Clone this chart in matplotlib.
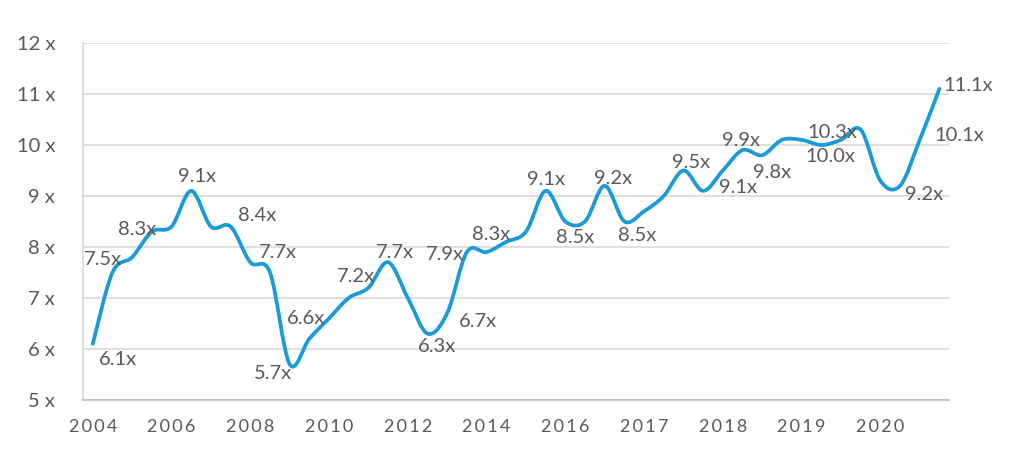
import numpy as np
import matplotlib
matplotlib.use("Agg")
import matplotlib.pyplot as plt
from matplotlib.path import Path
from matplotlib.patches import PathPatch

# ---- data ----
multiples = [6.1, 7.5, 7.8, 8.3, 8.4, 9.1, 8.4, 8.4, 7.7, 7.5,
             5.7, 6.2, 6.6, 7.0, 7.2, 7.7, 7.0, 6.3, 6.7, 7.9,
             7.9, 8.1, 8.3, 9.1, 8.5, 8.5, 9.2, 8.5, 8.7, 9.0,
             9.5, 9.1, 9.5, 9.9, 9.8, 10.1, 10.1, 10.0, 10.1, 10.3,
             9.3, 9.2, 10.1, 11.1]
tick_positions = [0, 4, 8, 12, 16, 20, 24, 28, 32, 36, 40]
tick_years = ['2004', '2006', '2008', '2010', '2012', '2014', '2016',
              '2017', '2018', '2019', '2020']
y_ticks = [5, 6, 7, 8, 9, 10, 11, 12]
label_idx = [0, 1, 3, 5, 7, 8, 10, 12, 14, 15, 17, 18, 19, 22, 23, 24,
             26, 27, 30, 31, 33, 34, 37, 39, 41, 42, 43]
label_txt = ['6.1x', '7.5x', '8.3x', '9.1x', '8.4x', '7.7x', '5.7x', '6.6x',
             '7.2x', '7.7x', '6.3x', '6.7x', '7.9x', '8.3x', '9.1x', '8.5x',
             '9.2x', '8.5x', '9.5x', '9.1x', '9.9x', '9.8x', '10.0x', '10.3x',
             '9.2x', '10.1x', '11.1x']
# label offsets (pixels) from their point
label_off = [(25, -16), (-10, 13), (-15, 2), (6, 14), (27, 11), (28, 10),
             (-17, -9), (-23, 0), (-12, 11), (7, 10), (10, -13), (31, -8),
             (-22, -2), (-35, -3), (0, 11), (10, -16), (8, 7), (13, -14),
             (8, 8), (35, 3), (-2, 10), (10, -17), (9, -12), (-28, -3),
             (24, -9), (40, 4), (29, 3)]

LINE = '#1A9AD6'
TXT = '#595959'
FONT = ['Lato', 'DejaVu Sans']

fig = plt.figure(figsize=(10.24, 4.65), dpi=100)
ax = fig.add_axes([0.081, 0.140, 0.846, 0.7675])

x = np.arange(len(multiples), dtype=float)
y = np.array(multiples, dtype=float)

# smooth line (Catmull-Rom as cubic Bezier, like a spreadsheet "smoothed line")
P = np.column_stack([x, y])
Pext = np.vstack([P[0], P, P[-1]])
verts = [tuple(P[0])]
codes = [Path.MOVETO]
for i in range(len(P) - 1):
    p0, p1, p2, p3 = Pext[i], Pext[i + 1], Pext[i + 2], Pext[i + 3]
    c1 = p1 + (p2 - p0) / 6.0
    c2 = p2 - (p3 - p1) / 6.0
    verts += [tuple(c1), tuple(c2), tuple(p2)]
    codes += [Path.CURVE4] * 3
ax.add_patch(PathPatch(Path(verts, codes), facecolor='none', edgecolor=LINE,
                       lw=2.7, capstyle='round', joinstyle='round', zorder=3))

for i, t, (dx, dy) in zip(label_idx, label_txt, label_off):
    ax.annotate(t, xy=(x[i], y[i]), xytext=(dx, dy), textcoords='offset pixels',
                ha='center', va='center', fontsize=14.5, color=TXT,
                family=FONT, zorder=4)

ax.set_xlim(-0.5, len(multiples) - 0.5)
ax.set_ylim(5, 12)
ax.set_yticks(y_ticks)
ax.set_yticklabels([f'{v} x' for v in y_ticks], family=FONT, fontsize=14.5,
                   color=TXT)
ax.set_xticks(tick_positions)
ax.set_xticklabels(['\u2009'.join(list(s)) for s in tick_years],
                   family=FONT, fontsize=13, color=TXT)
ax.tick_params(axis='both', length=0)
ax.tick_params(axis='y', pad=20)
ax.tick_params(axis='x', pad=14)

ax.grid(axis='y', color='#D9D9D9', lw=1.2)
ax.set_axisbelow(True)
for s in ['top', 'right']:
    ax.spines[s].set_visible(False)
ax.spines['left'].set_color('#D9D9D9')
ax.spines['left'].set_linewidth(1.2)
ax.spines['bottom'].set_color('#BFBFBF')
ax.spines['bottom'].set_linewidth(1.2)

fig.savefig('out.png', dpi=100)
